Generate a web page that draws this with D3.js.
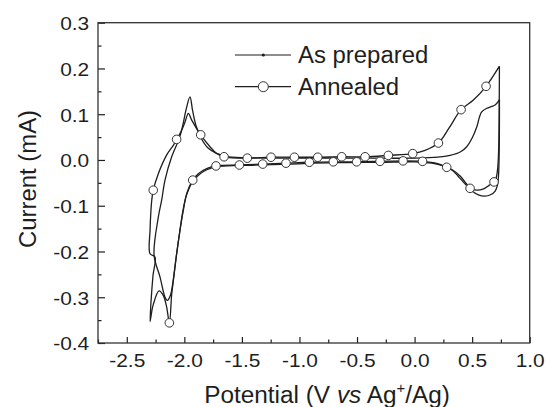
<!DOCTYPE html>
<html>
<head>
<meta charset="utf-8">
<script src="https://cdn.jsdelivr.net/npm/d3@7"></script>
<style>
  body { margin: 0; background: #fff; }
  svg { display: block; font-family: "Liberation Sans", Arial, sans-serif; }
</style>
</head>
<body>
<div id="chart"></div>
<script>
// cyclic voltammograms
const asPreparedV = [0.737, 0.737, 0.735, 0.73, 0.72, 0.70, 0.66, 0.61, 0.56, 0.50, 0.45, 0.40, 0.33, 0.25, 0.15, 0.0,
  -0.3, -0.7, -1.1, -1.5, -1.72, -1.81, -1.885, -1.935, -1.985, -2.015, -2.035, -2.07, -2.098, -2.12, -2.148, -2.168,
  -2.211, -2.263, -2.226, -2.197, -2.168, -2.11, -2.04, -2.01, -1.985, -1.951, -1.929, -1.90, -1.855, -1.794, -1.725,
  -1.638, -1.473, -1.0, -0.5, 0.0, 0.2, 0.308, 0.40, 0.453, 0.50, 0.54, 0.565, 0.583, 0.627, 0.67, 0.699, 0.737];
const asPreparedI = [0.132, 0.08, 0.02, -0.03, -0.055, -0.068, -0.076, -0.079, -0.077, -0.068, -0.052, -0.036, -0.022, -0.013, -0.007, -0.004,
  -0.005, -0.006, -0.009, -0.012, -0.015, -0.022, -0.035, -0.05, -0.08, -0.115, -0.148, -0.21, -0.265, -0.295, -0.307, -0.30,
  -0.256, -0.208, -0.125, -0.088, -0.044, 0.007, 0.05, 0.08, 0.11, 0.138, 0.109, 0.076, 0.048, 0.026, 0.015,
  0.008, 0.005, 0.004, 0.004, 0.004, 0.006, 0.010, 0.018, 0.029, 0.048, 0.072, 0.095, 0.105, 0.113, 0.117, 0.120, 0.132];

const annealedV = [0.737, 0.736, 0.734, 0.73, 0.722, 0.708, 0.69, 0.65, 0.60, 0.54, 0.482, 0.43, 0.38, 0.33, 0.279, 0.2,
  0.069, -0.1, -0.3, -0.503, -0.706, -0.914, -1.117, -1.319, -1.522, -1.725, -1.806, -1.879, -1.927, -1.979, -2.009,
  -2.03, -2.067, -2.096, -2.11, -2.13, -2.154, -2.183, -2.22, -2.27, -2.292, -2.298, -2.289, -2.272, -2.255, -2.298,
  -2.298, -2.29, -2.283, -2.27, -2.226, -2.153, -2.096, -2.067, -2.023, -1.994, -1.965, -1.936, -1.858, -1.777, -1.719,
  -1.655, -1.453, -1.247, -1.044, -0.841, -0.633, -0.43, -0.228, -0.016, 0.091, 0.207, 0.30, 0.404, 0.511, 0.621, 0.737];
const annealedI = [0.205, 0.15, 0.08, 0.02, -0.018, -0.040, -0.048, -0.055, -0.063, -0.066, -0.062, -0.050, -0.036, -0.023, -0.016, -0.008,
  -0.003, -0.002, -0.003, -0.004, -0.004, -0.005, -0.007, -0.009, -0.011, -0.013, -0.019, -0.030, -0.044, -0.073, -0.110,
  -0.141, -0.206, -0.265, -0.294, -0.356, -0.321, -0.296, -0.286, -0.316, -0.345, -0.353, -0.308, -0.252, -0.212, -0.205,
  -0.154, -0.110, -0.088, -0.066, -0.030, 0.011, 0.032, 0.045, 0.065, 0.083, 0.102, 0.087, 0.055, 0.029, 0.014,
  0.007, 0.004, 0.006, 0.006, 0.006, 0.007, 0.007, 0.010, 0.014, 0.021, 0.037, 0.070, 0.110, 0.131, 0.161, 0.205];

// open-circle symbols on the annealed curve
const annealedMarkerV = [0.69, 0.482, 0.279, 0.069, -0.1, -0.3, -0.503, -0.706, -0.914, -1.117, -1.319, -1.522, -1.725, -1.927, -2.13,
  -2.27, -2.067, -1.858, -1.655, -1.453, -1.247, -1.044, -0.841, -0.633, -0.43, -0.228, -0.016, 0.207, 0.404, 0.621];
const annealedMarkerI = [-0.048, -0.062, -0.016, -0.003, -0.002, -0.003, -0.004, -0.004, -0.005, -0.007, -0.009, -0.011, -0.013, -0.044, -0.356,
  -0.066, 0.045, 0.055, 0.007, 0.004, 0.006, 0.006, 0.006, 0.007, 0.007, 0.010, 0.014, 0.037, 0.110, 0.161];

const xTicks = [-2.5, -2.0, -1.5, -1.0, -0.5, 0.0, 0.5, 1.0];
const xMinorTicks = [-2.75, -2.25, -1.75, -1.25, -0.75, -0.25, 0.25, 0.75];
const yTicks = [-0.4, -0.3, -0.2, -0.1, 0.0, 0.1, 0.2, 0.3];
const yMinorTicks = [-0.35, -0.25, -0.15, -0.05, 0.05, 0.15, 0.25];
const legendLabels = ["As prepared", "Annealed"];

const W = 546, H = 407;
const margin = { top: 22.7, right: 16.3, bottom: 64, left: 98 };
const width = W - margin.left - margin.right;
const height = H - margin.top - margin.bottom;
const ink = "#1e1e1e";

const svg = d3.select("#chart").append("svg")
  .attr("width", W)
  .attr("height", H);
const g = svg.append("g")
  .attr("transform", `translate(${margin.left},${margin.top})`);

const x = d3.scaleLinear().domain([-2.75, 1.0]).range([0, width]);
const y = d3.scaleLinear().domain([-0.4, 0.3]).range([height, 0]);

const fmt = (d) => d.toFixed(1);

// axes with inward ticks
const xAxis = g.append("g")
  .attr("transform", `translate(0,${height})`)
  .call(d3.axisBottom(x).tickValues(xTicks).tickFormat(fmt).tickSize(-6).tickPadding(11));
g.append("g")
  .attr("transform", `translate(0,${height})`)
  .call(d3.axisBottom(x).tickValues(xMinorTicks).tickFormat("").tickSize(-3.5));
const yAxis = g.append("g")
  .call(d3.axisLeft(y).tickValues(yTicks).tickFormat(fmt).tickSize(-7).tickPadding(8));
g.append("g")
  .call(d3.axisLeft(y).tickValues(yMinorTicks).tickFormat("").tickSize(-3.5));

g.selectAll(".domain").remove();
g.selectAll(".tick line").attr("stroke", ink).attr("stroke-width", 1.2);
g.selectAll(".tick text")
  .attr("fill", ink)
  .style("font-size", "19px")
  .style("font-family", '"Liberation Sans", Arial, sans-serif');
xAxis.selectAll(".tick text").attr("transform", "scale(1.1,1)");
yAxis.selectAll(".tick text").attr("transform", "scale(1.1,1)").attr("dy", "0.36em");

g.append("rect")
  .attr("width", width)
  .attr("height", height)
  .attr("fill", "none")
  .attr("stroke", "#333")
  .attr("stroke-width", 1.3);

// curves
const line = d3.line()
  .x((d) => x(d[0]))
  .y((d) => y(d[1]))
  .curve(d3.curveCatmullRom.alpha(0.5));

const asPrepared = asPreparedV.map((v, i) => [v, asPreparedI[i]]);
const annealed = annealedV.map((v, i) => [v, annealedI[i]]);
const markers = annealedMarkerV.map((v, i) => [v, annealedMarkerI[i]]);

g.append("path")
  .datum(asPrepared)
  .attr("d", line)
  .attr("fill", "none")
  .attr("stroke", ink)
  .attr("stroke-width", 1.3);

g.append("path")
  .datum(annealed)
  .attr("d", line)
  .attr("fill", "none")
  .attr("stroke", ink)
  .attr("stroke-width", 1.3);

g.selectAll(".mk")
  .data(markers)
  .join("circle")
  .attr("class", "mk")
  .attr("cx", (d) => x(d[0]))
  .attr("cy", (d) => y(d[1]))
  .attr("r", 4.3)
  .attr("fill", "#fff")
  .attr("stroke", "#333")
  .attr("stroke-width", 1);

// legend
const legend = svg.append("g").attr("transform", "translate(235,55)");
legendLabels.forEach((lab, i) => {
  const row = legend.append("g").attr("transform", `translate(0,${i * 31.7})`);
  row.append("line")
    .attr("x1", 0).attr("x2", 56)
    .attr("stroke", ink).attr("stroke-width", 1.2);
  if (i === 0) {
    row.append("circle").attr("cx", 28.3).attr("r", 1.6).attr("fill", ink);
  } else {
    row.append("circle").attr("cx", 28.3).attr("r", 5)
      .attr("fill", "#fff").attr("stroke", "#333").attr("stroke-width", 1);
  }
  row.append("text")
    .attr("transform", "translate(63,8.3) scale(1.04,1)")
    .attr("fill", ink)
    .style("font-size", "23px")
    .text(lab);
});

// axis titles
const xt = svg.append("text")
  .attr("transform", "translate(327,403) scale(1.06,1)")
  .attr("text-anchor", "middle")
  .attr("fill", ink)
  .style("font-size", "23px");
xt.append("tspan").text("Potential (V ");
xt.append("tspan").style("font-style", "italic").text("vs");
xt.append("tspan").text(" Ag");
xt.append("tspan").attr("dy", -10).style("font-size", "14px").text("+");
xt.append("tspan").attr("dy", 10).text("/Ag)");

svg.append("text")
  .attr("transform", "translate(36,179) rotate(-90) scale(1.04,1)")
  .attr("text-anchor", "middle")
  .attr("fill", ink)
  .style("font-size", "23px")
  .text("Current (mA)");
</script>
</body>
</html>
